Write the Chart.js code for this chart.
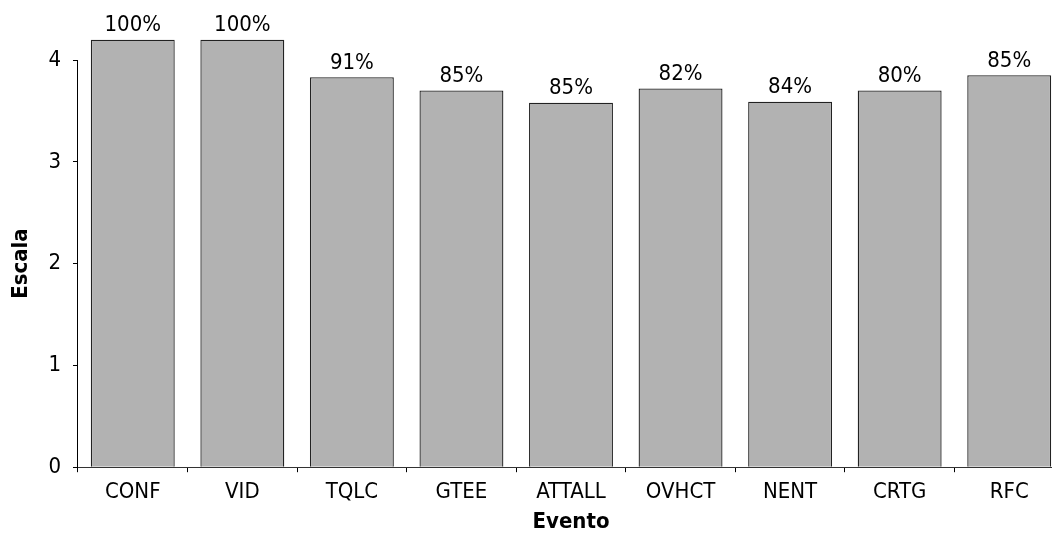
<!DOCTYPE html>
<html>
<head>
<meta charset="utf-8">
<script src="https://cdn.jsdelivr.net/npm/chart.js@4.4.0/dist/chart.umd.min.js"></script>
<style>
  html, body { margin: 0; padding: 0; background: #fff; overflow: hidden; }
  #wrap { width: 1066px; height: 533px; position: relative; }
</style>
</head>
<body>
<div id="wrap"><canvas id="chart"></canvas></div>
<script>
let eventos = ["CONF", "VID", "TQLC", "GTEE", "ATTALL", "OVHCT", "NENT", "CRTG", "RFC"]
let escala = [4.2, 4.2, 3.83, 3.70, 3.58, 3.72, 3.59, 3.70, 3.85]
let porcentaje = ["100%", "100%", "91%", "85%", "85%", "82%", "84%", "80%", "85%"]
let yTicks = [0, 1, 2, 3, 4]

const fontFam = '"Liberation Sans Narrow", "DejaVu Sans Condensed", "Liberation Sans", sans-serif';
Chart.defaults.font.family = fontFam;
Chart.defaults.color = "#000";

// percentage labels over each bar
const pctLabels = {
  id: 'pctLabels',
  afterDatasetsDraw(chart) {
    const ctx = chart.ctx;
    const meta = chart.getDatasetMeta(0);
    ctx.save();
    ctx.font = '22px ' + fontFam;
    ctx.fillStyle = '#000';
    ctx.textAlign = 'center';
    ctx.textBaseline = 'bottom';
    meta.data.forEach((bar, i) => {
      ctx.fillText(porcentaje[i], bar.x, bar.y - 3);
    });
    ctx.restore();
  }
};

let chart = new Chart('chart', {
  type: 'bar',
  data: {
    labels: eventos,
    datasets: [{
      data: escala,
      backgroundColor: '#b2b2b2',
      borderColor: '#222',
      borderWidth: 1.3,
      barPercentage: 0.766,
      categoryPercentage: 1,
      clip: false
    }]
  },
  options: {
    responsive: true,
    maintainAspectRatio: false,
    animation: false,
    layout: { padding: { top: 60, right: 2, left: 8, bottom: 0 } },
    plugins: {
      legend: { display: false },
      tooltip: { enabled: false }
    },
    scales: {
      x: {
        offset: true,
        grid: { display: true, drawOnChartArea: false, offset: true, tickLength: 5, color: '#000' },
        border: { display: true, color: '#333', width: 1 },
        ticks: { font: { size: 22 }, padding: 7, maxRotation: 0 },
        title: { display: true, text: 'Evento', font: { size: 22, weight: 'bold' }, padding: { top: -4, bottom: -2 } }
      },
      y: {
        min: 0,
        max: 4,
        afterBuildTicks: (axis) => { axis.ticks = yTicks.map(v => ({ value: v })); },
        grid: { display: true, drawOnChartArea: false, tickLength: 5, color: '#000' },
        border: { display: true, color: '#000', width: 1 },
        ticks: { font: { size: 22 }, padding: 12 },
        title: { display: true, text: 'Escala', font: { size: 22, weight: 'bold' }, padding: { top: 0, bottom: 2 } }
      }
    }
  },
  plugins: [pctLabels]
});
</script>
</body>
</html>
